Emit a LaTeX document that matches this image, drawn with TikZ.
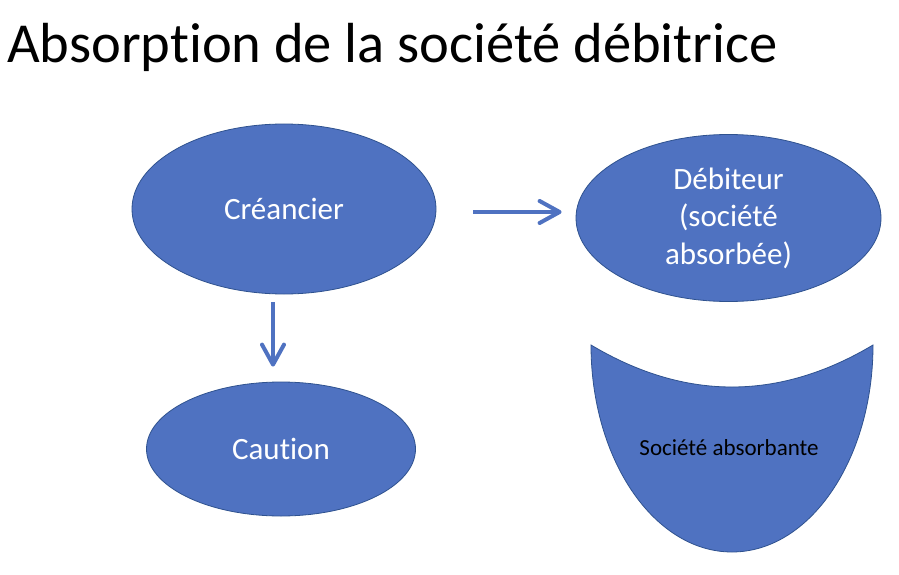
\documentclass[tikz,border=0pt]{standalone}
\usepackage{fontspec}
\setmainfont{Carlito}[Ligatures=NoCommon]
\usetikzlibrary{shapes.geometric,arrows.meta,calc}
\definecolor{ofblue}{RGB}{79,114,193}
\definecolor{ofedge}{RGB}{47,82,143}
\tikzset{
  bubble/.style={ellipse, fill=ofblue, draw=ofedge, line width=0.8pt, inner sep=0pt,
    text=white, align=center, font=\fontsize{31}{37.5}\selectfont},
  flowarrow/.style={draw=ofblue, line width=4pt,
    -{Straight Barb[length=20pt,width=22pt,line width=4pt,round]}},
}
\begin{document}
\begin{tikzpicture}[x=1pt,y=-1pt]
\useasboundingbox (0,0) rectangle (899,575);
\fill[white] (0,0) rectangle (899,575);
% title
\node[anchor=base west, inner sep=0pt, font=\fontsize{56.5}{60}\selectfont] (title) at (7,63) {Absorption de la société débitrice};
% ellipses
\node[bubble, minimum width=304pt, minimum height=170pt] (cre) at (284,209) {Créancier};
\node[bubble, minimum width=305pt, minimum height=167pt] (deb) at (728.5,218) {Débiteur\\(société\\absorbée)};
\node[bubble, minimum width=269pt, minimum height=134pt] (cau) at (281,449) {Caution};
% arrows
\draw[flowarrow, shorten <=37pt, shorten >=14pt] ([yshift=-3pt]cre.east) -- ([yshift=-3pt]cre.east -| deb.west);
\draw[flowarrow, shorten <=8pt, shorten >=15pt] ([xshift=-11pt]cre.south) -- ([xshift=-11pt]cre.south |- cau.north);
% Societe absorbante shape
\draw[fill=ofblue, draw=ofedge, line width=0.8pt]
  (591,345) .. controls (685,401) and (779,401) .. (873,345)
  arc[start angle=0, end angle=180, x radius=141, y radius=207] -- cycle;
\node[inner sep=0pt, font=\fontsize{23}{27}\selectfont] (abs) at (729,448) {Société absorbante};
\end{tikzpicture}
\end{document}
